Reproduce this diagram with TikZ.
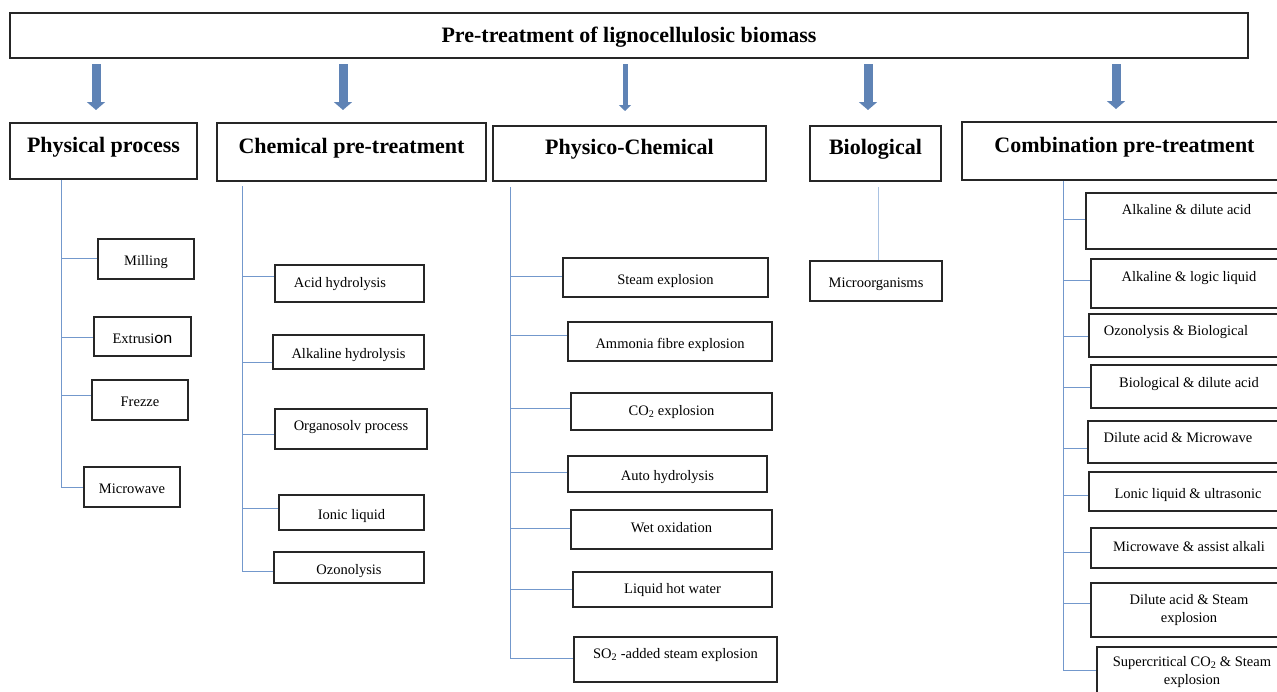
\documentclass[tikz,border=0pt]{standalone}
\usepackage{fontspec}
\setmainfont{Liberation Serif}
\newfontfamily\calfont{Carlito}
\usepackage{xcolor}
\usetikzlibrary{arrows.meta,calc}
\definecolor{frame}{HTML}{262626}
\definecolor{twig}{HTML}{7398CC}
\definecolor{paletwig}{HTML}{A9C2E2}
\definecolor{steel}{HTML}{5F83B5}

\begin{document}
\begin{tikzpicture}[x=1pt,y=-1pt,
  hd/.style={draw=frame,line width=2pt,inner sep=0pt,
             font=\fontsize{22}{26}\selectfont\bfseries},
  box/.style={draw=frame,line width=1.7pt,inner sep=0pt,
              font=\fontsize{14.5}{17.5}\selectfont},
  lf/.style={box,text height=16pt,text depth=#1},
  lf/.default=3pt,
  lift/.style={text depth=#1},
  twg/.style={color=twig,line width=1pt},
  blk/.style={color=steel,line width=9pt,-{Triangle[width=18pt,length=8pt]}},
  thinblk/.style={color=steel,line width=5pt,-{Triangle[width=12pt,length=6pt]}}]
  \path[use as bounding box,clip] (0,0) rectangle (1277,691);

  \node[hd,text height=19pt,minimum width=1238pt,minimum height=45pt] (title) at (629,35.5)
    {Pre-treatment of lignocellulosic biomass};

  \node[hd,lift=13pt,minimum width=187pt,minimum height=56pt] (phys) at (103.5,151) {Physical process};
  \node[hd,lift=13pt,minimum width=269pt,minimum height=58pt] (chem) at (351.5,152) {Chemical pre-treatment};
  \node[hd,lift=13pt,minimum width=273pt,minimum height=55pt] (pc) at (629.5,153.5) {Physico-Chemical};
  \node[hd,lift=13pt,minimum width=131pt,minimum height=55pt] (bio) at (875.5,153.5) {Biological};
  \node[hd,lift=13pt,minimum width=325pt,minimum height=58pt] (comb) at (1124.5,151) {Combination pre-treatment};

  \foreach \hn/\ax/\gap in {phys/96/12,chem/343/12,bio/868/15,comb/1116/12}
    \draw[blk] ($(title.south -| \ax,0)+(0,5)$) -- ($(\hn.north -| \ax,0)+(0,-\gap)$);
  \draw[thinblk] ($(title.south -| 625,0)+(0,5)$) -- ($(pc.north -| 625,0)+(0,-14)$);

  \node[lf,minimum width=96pt,minimum height=40pt] (mill) at (146,259) {Milling};
  \node[lf,minimum width=97pt,minimum height=39pt] (extr) at (142.5,336.5)
    {Extrusi{\calfont\fontsize{17}{17}\selectfont on}};
  \node[lf,minimum width=96pt,minimum height=40pt] (frez) at (140,400) {Frezze};
  \node[lf,minimum width=96pt,minimum height=40pt] (micw) at (132,487) {Microwave};

  \node[lf=8pt,minimum width=149pt,minimum height=37pt] (acid) at (349.5,283.5) {Acid hydrolysis\kern19pt};
  \node[lf,minimum width=151pt,minimum height=34pt] (alkh) at (348.5,352) {Alkaline hydrolysis};
  \node[lf=13pt,minimum width=152pt,minimum height=40pt] (orga) at (351,429) {Organosolv process};
  \node[lf,minimum width=145pt,minimum height=35pt] (ionic) at (351.5,512.5) {Ionic liquid};
  \node[lf,minimum width=150pt,minimum height=31pt] (ozon) at (349,567.5) {Ozonolysis};

  \node[lf,minimum width=205pt,minimum height=39pt] (steam) at (665.5,277.5) {Steam explosion};
  \node[lf,minimum width=204pt,minimum height=39pt] (ammo) at (670,341.5) {Ammonia fibre explosion};
  \node[lf=8pt,minimum width=201pt,minimum height=37pt] (cotwo) at (671.5,411.5) {CO\textsubscript{2} explosion};
  \node[lf,minimum width=199pt,minimum height=36pt] (auto) at (667.5,474) {Auto hydrolysis};
  \node[lf=10pt,minimum width=201pt,minimum height=39pt] (wet) at (671.5,529.5) {Wet oxidation};
  \node[lf=8pt,minimum width=199pt,minimum height=35pt] (lhw) at (672.5,589.5) {Liquid hot water};
  \node[lf=18pt,minimum width=203pt,minimum height=45pt] (sotwo) at (675.5,659.5)
    {SO\textsubscript{2} -added steam explosion};

  \node[lf,minimum width=132pt,minimum height=40pt] (micro) at (876,281) {Microorganisms};

  \node[lf=29pt,minimum width=201pt,minimum height=56pt] (cA) at (1186.5,221) {Alkaline \& dilute acid};
  \node[lf=20pt,minimum width=196pt,minimum height=49pt] (cB) at (1189,283.5) {Alkaline \& logic liquid};
  \node[lf=16pt,minimum width=198pt,minimum height=43pt] (cC) at (1188,335.5) {Ozonolysis \& Biological\kern24pt};
  \node[lf=14pt,minimum width=196pt,minimum height=43pt] (cD) at (1189,386.5) {Biological \& dilute acid};
  \node[lf=15pt,minimum width=199pt,minimum height=42pt] (cE) at (1187.5,442) {Dilute acid \& Microwave\kern19pt};
  \node[lf,minimum width=198pt,minimum height=39pt] (cF) at (1188,491.5) {Lonic liquid \& ultrasonic};
  \node[lf=9pt,minimum width=196pt,minimum height=40pt] (cG) at (1189,548) {Microwave \& assist alkali};
  \node[box,align=center,minimum width=196pt,minimum height=54pt] (cH) at (1189,610)
    {Dilute acid \& Steam\\explosion};
  \node[box,align=center,minimum width=190pt,minimum height=50pt] (cI) at (1192,672)
    {Supercritical CO\textsubscript{2} \& Steam\\explosion};

  \coordinate (pht) at (61,180);
  \coordinate (cht) at (242,186);
  \coordinate (pct) at (510,187);
  \coordinate (bit) at (878,187);
  \coordinate (cot) at (1063,181);

  \draw[twg] (pht) -- (pht |- micw.west);
  \foreach \nm/\dy in {mill/1,extr/-0.5,frez/5,micw/0}
    \draw[twg] ([yshift=\dy]\nm.west -| pht) -- ([yshift=\dy]\nm.west);

  \draw[twg] (cht) -- ([yshift=-3.5]ozon.west -| cht);
  \foreach \nm/\dy in {acid/7.5,alkh/-10,orga/-5,ionic/4.5,ozon/-3.5}
    \draw[twg] ([yshift=\dy]\nm.west -| cht) -- ([yshift=\dy]\nm.west);

  \draw[twg] (pct) -- ([yshift=1.5]sotwo.west -| pct);
  \foreach \nm/\dy in {steam/1.5,ammo/6.5,cotwo/3.5,auto/2,wet/1.5,lhw/0.5,sotwo/1.5}
    \draw[twg] ([yshift=\dy]\nm.west -| pct) -- ([yshift=\dy]\nm.west);

  \draw[twg,color=paletwig] (bit) -- (micro.north -| bit);

  \draw[twg] (cot) -- ([yshift=1.5]cI.west -| cot);
  \foreach \nm/\dy in {cA/2,cB/3.5,cC/-0.5,cD/-0.5,cE/-6,cF/-3.5,cG/-4,cH/7,cI/1.5}
    \draw[twg] ([yshift=\dy]\nm.west -| cot) -- ([yshift=\dy]\nm.west);
\end{tikzpicture}
\end{document}
